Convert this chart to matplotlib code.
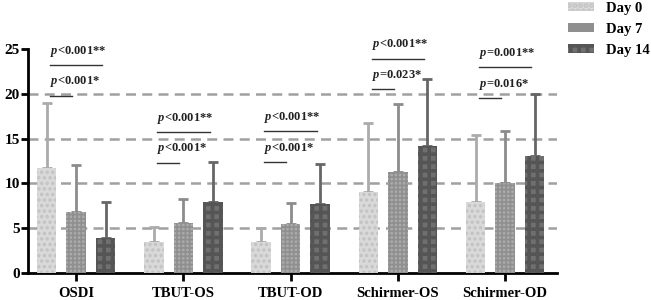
import matplotlib
matplotlib.use('Agg')
import matplotlib.pyplot as plt
import numpy as np

plt.rcParams['font.family'] = ['Liberation Serif', 'DejaVu Serif']
plt.rcParams['font.weight'] = 'bold'
plt.rcParams['mathtext.fontset'] = 'custom'
plt.rcParams['mathtext.it'] = 'Liberation Serif:bold:italic'
plt.rcParams['mathtext.rm'] = 'Liberation Serif:bold'

categories = ['OSDI', 'TBUT-OS', 'TBUT-OD', 'Schirmer-OS', 'Schirmer-OD']
days = ['Day 0', 'Day 7', 'Day 14']
means = {
    'Day 0': [11.7, 3.5, 3.5, 9.0, 7.9],
    'Day 7': [6.8, 5.6, 5.5, 11.3, 10.0],
    'Day 14': [3.9, 7.9, 7.7, 14.2, 13.0],
}
sds = {
    'Day 0': [7.3, 1.6, 1.5, 7.7, 7.5],
    'Day 7': [5.2, 2.6, 2.3, 7.5, 5.8],
    'Day 14': [4.0, 4.5, 4.5, 7.4, 7.0],
}
p_day7 = ['<0.001*', '<0.001*', '<0.001*', '=0.023*', '=0.016*']
p_day14 = ['<0.001**', '<0.001**', '<0.001**', '<0.001**', '=0.001**']
y_short = [19.8, 12.3, 12.4, 20.5, 19.5]
y_long = [23.2, 15.7, 15.8, 23.9, 23.0]

face = ['#d9d9d9', '#ababab', '#6f6f6f']
hatch_col = ['#c2c2c2', '#8f8f8f', '#555555']
hatches = ['...', '++++', '++']
hatch_lw = [1.6, 1.2, 2.6]
err_col = ['#ababab', '#8c8c8c', '#666666']

fig = plt.figure(figsize=(6.51, 3.0), dpi=100)
ax = fig.add_axes([0.043, 0.09, 0.813, 0.747])

x = np.arange(len(categories))
step = 0.275
width = 0.18
for i, d in enumerate(days):
    xs = x + (i - 1) * step
    plt.rcParams['hatch.linewidth'] = hatch_lw[i]
    ax.bar(xs, means[d], width, color=face[i], edgecolor=hatch_col[i],
           hatch=hatches[i], linewidth=0, label=d, zorder=3)
    ax.errorbar(xs, means[d], yerr=[np.zeros(len(x)), sds[d]], fmt='none',
                ecolor=err_col[i], elinewidth=2, capsize=3.5, capthick=2, zorder=2)

for yv in [5, 10, 15, 20]:
    ax.axhline(yv, color='#a0a0a0', lw=1.8, ls=(0, (4, 2.5)), zorder=1)

for k in range(len(categories)):
    x0 = x[k] - 0.245
    ax.plot([x0, x[k] - 0.04], [y_short[k], y_short[k]], color='#333333', lw=1, clip_on=False, zorder=4)
    ax.plot([x0, x[k] + 0.245], [y_long[k], y_long[k]], color='#333333', lw=1, clip_on=False, zorder=4)
    ax.text(x0, y_short[k] + 0.7, '$p$' + p_day7[k], fontsize=9, fontweight='bold',
            ha='left', va='bottom', color='#222222', clip_on=False)
    ax.text(x0, y_long[k] + 0.7, '$p$' + p_day14[k], fontsize=9, fontweight='bold',
            ha='left', va='bottom', color='#222222', clip_on=False)

ax.set_xlim(-0.449, 4.486)
ax.set_ylim(0, 25)
ax.set_yticks([0, 5, 10, 15, 20, 25])
ax.set_xticks(x)
ax.set_xticklabels(categories, fontsize=10.5, fontweight='bold')
ax.tick_params(axis='y', labelsize=11, width=2, length=5, pad=1)
ax.tick_params(axis='x', width=2, length=6, pad=4)
for lab in ax.get_yticklabels():
    lab.set_fontweight('bold')
for s in ['top', 'right']:
    ax.spines[s].set_visible(False)
for s in ['left', 'bottom']:
    ax.spines[s].set_linewidth(2)

ax.legend(loc='upper left', bbox_to_anchor=(0.995, 1.27), frameon=False, fontsize=10.5,
          handlelength=1.8, handleheight=0.6, labelspacing=0.55, handletextpad=0.8)

fig.savefig('out.png', dpi=100)
